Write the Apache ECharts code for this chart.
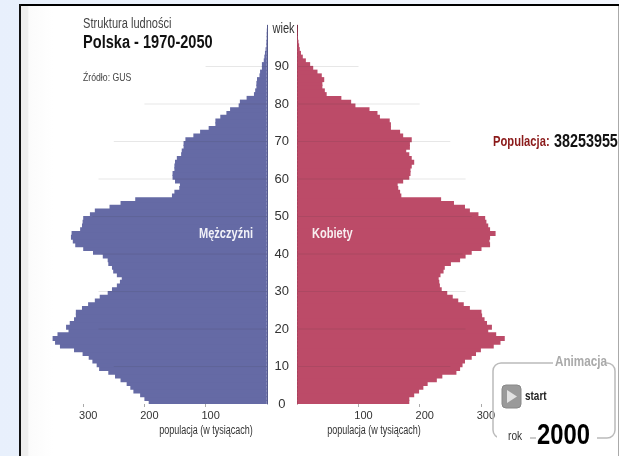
<!DOCTYPE html>
<html><head><meta charset="utf-8">
<style>html,body{margin:0;padding:0;background:#fff}#c{width:619px;height:456px}</style>
<script src="https://cdn.jsdelivr.net/npm/echarts@6/dist/echarts.min.js"></script>
</head><body><div id="c"></div>
<script>
const ages = Array.from({length:101},(_,i)=>String(i));
const male = [193,200,207,218,223,229,239,248,259,274,278,285,291,301,315,338,346,350,342,324,328,322,315,312,312,302,292,281,273,260,253,245,240,237,245,251,253,259,260,268,284,300,313,317,320,319,305,302,301,300,289,281,257,239,215,155,151,143,142,150,154,154,151,151,150,147,140,139,136,136,133,120,109,95,84,84,76,66,60,46,44,33,21,19,17,17,16,12,11,8,8,5,4,3,2,1,1,0.5,0.5,0.3,0];
const female = [183,183,191,199,206,213,228,237,260,266,270,274,285,292,300,321,332,339,325,312,318,310,306,302,301,282,272,263,254,245,236,233,232,231,234,239,241,251,266,275,285,301,315,314,315,324,315,312,309,307,296,282,274,256,235,170,168,165,164,173,183,185,185,187,191,187,183,178,184,184,187,173,168,153,153,151,135,131,118,95,88,72,48,45,41,41,44,40,33,26,21,14,9,6,4,3,2,1,0.5,0.3,0];
const guideLevels = [10,20,30,40,50,60,70,80,90];
const guideLengths = [250,275,275,270,285,275,250,200,100];
const xTicks = [100,200,300];
const face = '"Liberation Sans",Arial,sans-serif';
const guides = guideLevels.map((l,i)=>[guideLengths[i],l]);
const guideSeries = (xi,yi)=>({type:'custom',xAxisIndex:xi,yAxisIndex:yi,z:5,silent:true,data:guides,
  renderItem:(p,api)=>{const a=api.coord([0,api.value(1)]),b=api.coord([api.value(0),api.value(1)]);
    return {type:'line',shape:{x1:a[0],y1:a[1],x2:b[0],y2:b[1]},style:{stroke:'rgba(60,60,60,0.12)',lineWidth:1}};}});
const xAxisFor = (gi,inv)=>({gridIndex:gi,type:'value',inverse:inv,min:0,max:400,interval:100,
  splitLine:{show:false},axisLine:{show:false},
  axisTick:{show:true,length:3,lineStyle:{color:'#aaa'},customValues:xTicks},
  axisLabel:{show:true,customValues:xTicks,color:'#333',fontFamily:face,fontSize:11,margin:6,padding:[0,0,0,10],
    formatter:v=>xTicks.includes(v)?String(v):''}});
const hiddenCat = gi=>({gridIndex:gi,type:'category',data:ages,show:false,boundaryGap:true});
const gridTop=25.25, gridH=378.75;
const txt=(x,y,t,font,fill,sx,extra)=>({type:'text',x,y,scaleX:sx,z:20,style:Object.assign({text:t,font,fill,textVerticalAlign:'middle'},extra||{})});
const chart=echarts.init(document.getElementById('c'),null,{renderer:'canvas'});
chart.setOption({
  animation:false,backgroundColor:'#fff',
  grid:[{left:22,top:gridTop,width:244.8,height:gridH},{left:297.3,top:gridTop,width:244.8,height:gridH}],
  xAxis:[xAxisFor(0,true),xAxisFor(1,false)],
  yAxis:[hiddenCat(0),
    {gridIndex:0,type:'value',position:'right',min:0,max:101,interval:10,splitLine:{show:false},axisTick:{show:false},
     axisLine:{show:true,onZero:false,lineStyle:{color:'#555a8c',width:1}},
     axisLabel:{show:true,inside:false,margin:15,align:'center',fontFamily:face,fontSize:13,color:'#333',
       formatter:v=>v<=90?String(v):''}},
    hiddenCat(1),
    {gridIndex:1,type:'value',position:'left',min:0,max:101,interval:10,splitLine:{show:false},axisTick:{show:false},
     axisLine:{show:true,onZero:false,lineStyle:{color:'#7d2b42',width:1}},axisLabel:{show:false}}],
  series:[
    {type:'bar',name:'Mężczyźni',xAxisIndex:0,yAxisIndex:0,data:male,barWidth:5,itemStyle:{color:'#656aa5'},silent:true},
    {type:'bar',name:'Kobiety',xAxisIndex:1,yAxisIndex:2,data:female,barWidth:5,itemStyle:{color:'#bc4b68'},silent:true},
    guideSeries(0,1),guideSeries(1,3)
  ],
  graphic:[
    {type:'rect',z:-10,shape:{x:0,y:0,width:619,height:456},style:{fill:new echarts.graphic.LinearGradient(0,0,1,0,[{offset:0,color:'#e8f0fc'},{offset:1,color:'#f4f7fe'}])},silent:true},
    {type:'rect',z:-9,shape:{x:21,y:6,width:597,height:450},style:{fill:'#fff'}},
    {type:'rect',z:-8,shape:{x:21,y:6,width:32,height:450},style:{fill:new echarts.graphic.LinearGradient(0,0,1,0,[{offset:0,color:'#eeeeee'},{offset:0.2,color:'#eeeeee'},{offset:0.25,color:'#fbfbfb'},{offset:1,color:'#ffffff'}])}},
    {type:'rect',z:-7,shape:{x:19,y:4,width:600,height:2},style:{fill:'#000'}},
    {type:'rect',z:-7,shape:{x:19,y:4,width:2,height:452},style:{fill:'#111'}},
    {type:'rect',z:-7,shape:{x:618,y:6,width:1,height:450},style:{fill:'#aaa'}},
    txt(83,24,'Struktura ludności','14px '+face,'#444',.79),
    txt(83,43,'Polska - 1970-2050','bold 18px '+face,'#111',.81),
    txt(83,78,'Źródło: GUS','11px '+face,'#444',.79),
    txt(272.5,29,'wiek','14px '+face,'#333',.79),
    txt(226,234,'Mężczyźni','bold 14px '+face,'#f2f2f8',.79,{textAlign:'center'}),
    txt(312,234,'Kobiety','bold 14px '+face,'#f8eef0',.79),
    txt(206,431,'populacja (w tysiącach)','12px '+face,'#333',.75,{textAlign:'center'}),
    txt(374,431,'populacja (w tysiącach)','12px '+face,'#333',.75,{textAlign:'center'}),
    txt(493,142,'Populacja:','bold 14px '+face,'#8b1a1a',.8),
    txt(554,142,'38253955','bold 17.5px '+face,'#111',.82),
    {type:'rect',z:15,shape:{x:493,y:363,width:122,height:75,r:8},style:{fill:'rgba(0,0,0,0)',stroke:'#bbb',lineWidth:1.5}},
    {type:'rect',z:16,shape:{x:553,y:355,width:52,height:14},style:{fill:'#fff'}},
    {type:'rect',z:16,shape:{x:497,y:430,width:33,height:14},style:{fill:'#fff'}},
    {type:'rect',z:16,shape:{x:536,y:425,width:61,height:20},style:{fill:'#fff'}},
    txt(555,362,'Animacja','bold 15px '+face,'#aaa',.78),
    {type:'rect',z:17,shape:{x:502,y:385,width:19,height:23,r:4},style:{fill:'#9a9a9a',stroke:'#888',lineWidth:1}},
    {type:'polygon',z:18,shape:{points:[[507,390],[517,396.5],[507,403]]},style:{fill:'#e2e2e2'}},
    txt(525,397,'start','bold 12px '+face,'#222',.83),
    txt(508,436,'rok','13px '+face,'#333',.78),
    txt(537,436,'2000','bold 29px '+face,'#000',.82)
  ]
});
</script></body></html>
